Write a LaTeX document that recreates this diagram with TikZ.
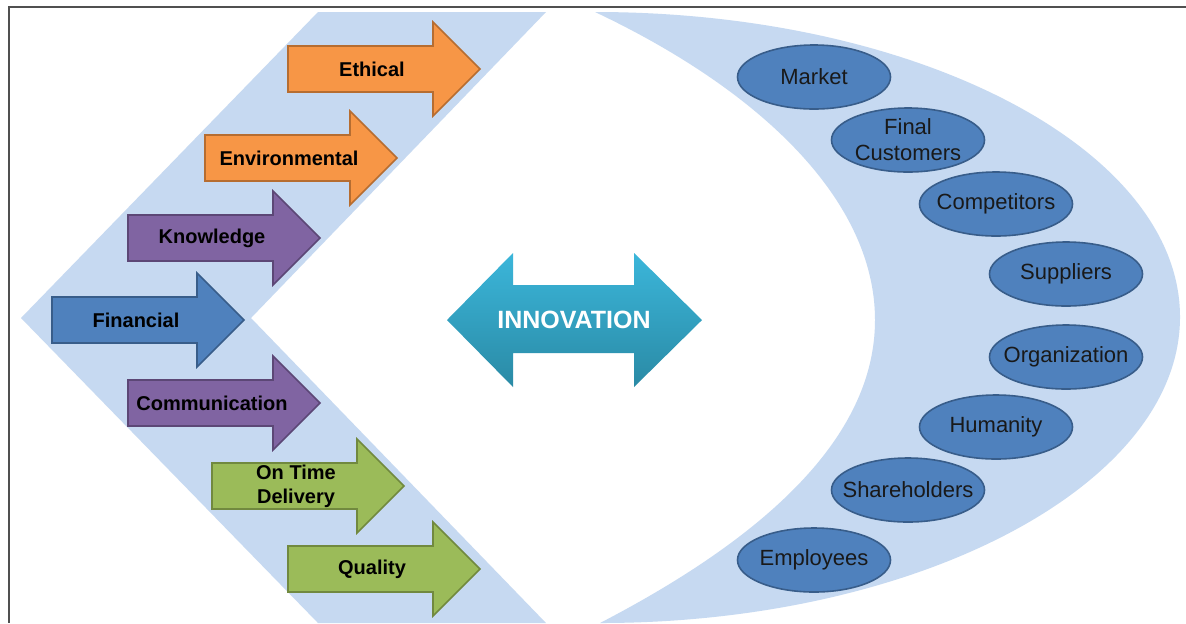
\documentclass[tikz,border=0pt]{standalone}
\usepackage{fontspec}
\setmainfont{Liberation Sans}
\usetikzlibrary{shapes.geometric}
\definecolor{band}{HTML}{C6D9F1}
\definecolor{orf}{HTML}{F79646}\definecolor{ord}{HTML}{B66D31}
\definecolor{puf}{HTML}{8064A2}\definecolor{pud}{HTML}{5C4776}
\definecolor{blf}{HTML}{4F81BD}\definecolor{bld}{HTML}{385D8A}
\definecolor{grf}{HTML}{9BBB59}\definecolor{grd}{HTML}{71893F}
\definecolor{innotop}{HTML}{3BB6DA}\definecolor{innobot}{HTML}{2A8AA5}
\definecolor{framec}{HTML}{505050}
\tikzset{
  arrowtext/.style={font=\bfseries\fontsize{10}{12}\selectfont, text=black, align=center, inner sep=0pt},
  stake/.style={ellipse, fill=blf, draw=bld, line width=0.8pt, minimum width=76.5pt, minimum height=32pt,
    inner sep=0pt},
  staketext/.style={font=\fontsize{11}{13}\selectfont, text=black!90, align=center, inner sep=0pt},
  arrowbody/.style={line width=0.8pt, line join=miter}
}
\newcommand{\stepArrow}[6]{%
  \draw[arrowbody, fill=#4, draw=#5] (#2,#3-23) -- ++(145,0) -- ++(0,-24) -- (#2+192,#3)
    -- (#2+145,#3+47) -- ++(0,-24) -- (#2,#3+23) -- cycle;
  \node[arrowtext] (#1) at (#2+84,#3) {#6};
}
\newcommand{\stakeNode}[4]{%
  \node[stake] (#1) at (#2,#3) {};
  \node[staketext] (#1-t) at (#1.center) {#4};
}
\begin{document}
\begin{tikzpicture}[x=0.5pt,y=-0.5pt]
\useasboundingbox (0,0) rectangle (1186,623);
\fill[white] (0,0) rectangle (1186,623);
% frame
\draw[framec, line width=1pt] (8,7) -- (1186,7);
\draw[framec, line width=1pt] (9,7) -- (9,623);
% left chevron band
\fill[band] (318,12) -- (546,12) -- (251,318) -- (546,623) -- (318,623) -- (21,318) -- cycle;
% right crescent
\fill[band] (595,12) .. controls (918,12) and (1180,149) .. (1180,317)
  .. controls (1180,485) and (918,623) .. (600,623)
  .. controls (760,540) and (875,440) .. (875,320)
  .. controls (875,200) and (760,90) .. (595,12) -- cycle;
% step arrows
\stepArrow{ethical}{288}{69}{orf}{ord}{Ethical}
\stepArrow{environmental}{205}{158}{orf}{ord}{Environmental}
\stepArrow{knowledge}{128}{238}{puf}{pud}{Knowledge}
\stepArrow{financial}{52}{320}{blf}{bld}{Financial}
\stepArrow{communication}{128}{403}{puf}{pud}{Communication}
\stepArrow{ontime}{212}{486}{grf}{grd}{On Time\\Delivery}
\stepArrow{quality}{288}{569}{grf}{grd}{Quality}
% innovation double arrow
\shade[top color=innotop, bottom color=innobot] (447,320) -- (513,253) -- (513,285) -- (634,285)
  -- (634,253) -- (702,320) -- (634,387) -- (634,353) -- (513,353) -- (513,387) -- cycle;
\node[font=\bfseries\fontsize{12.5}{15}\selectfont, text=white, inner sep=0pt] (innov) at (574,320) {INNOVATION};
% stakeholders
\stakeNode{market}{814}{77}{Market}
\stakeNode{customers}{908}{140}{Final\\Customers}
\stakeNode{competitors}{996}{204}{Competitors}
\stakeNode{suppliers}{1066}{274}{Suppliers}
\stakeNode{organization}{1066}{357}{Organization}
\stakeNode{humanity}{996}{427}{Humanity}
\stakeNode{shareholders}{908}{490}{Shareholders}
\stakeNode{employees}{814}{560}{Employees}
\end{tikzpicture}
\end{document}
